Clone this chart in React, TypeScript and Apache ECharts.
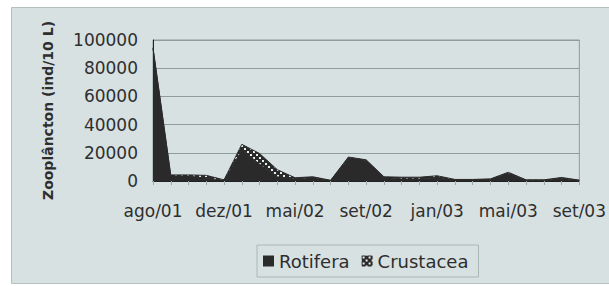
import React, { useEffect, useRef } from "react";
import * as echarts from "echarts";

const categories = [
  "ago/01", "set/01", "out/01", "nov/01", "dez/01", "fev/02", "mar/02", "abr/02", "mai/02",
  "jun/02", "jul/02", "ago/02", "set/02", "out/02", "nov/02", "dez/02", "jan/03", "fev/03",
  "mar/03", "abr/03", "mai/03", "jun/03", "jul/03", "ago/03", "set/03",
];
const rotifera = [
  94000, 3500, 3500, 2000, 500, 22000, 12000, 3000, 1500, 2500, 300, 16500, 14500,
  2500, 1500, 1500, 2500, 800, 800, 1200, 5500, 600, 600, 2000, 400,
];
const crustacea = [
  500, 800, 800, 2000, 300, 4000, 7500, 5000, 800, 500, 200, 500, 500,
  500, 1200, 1200, 1200, 300, 300, 300, 700, 200, 200, 500, 200,
];
const yTicks = { min: 0, max: 100000, interval: 20000 };

function makePattern() {
  const c = document.createElement("canvas");
  c.width = 6;
  c.height = 6;
  const ctx = c.getContext("2d")!;
  ctx.fillStyle = "#2a2a2a";
  ctx.fillRect(0, 0, 6, 6);
  ctx.fillStyle = "#e8eeee";
  ctx.fillRect(1, 1, 2, 2);
  ctx.fillRect(4, 4, 2, 2);
  return { image: c.toDataURL(), repeat: "repeat", imageWidth: 6, imageHeight: 6 } as any;
}

export default function App() {
  const ref = useRef<HTMLDivElement>(null);
  useEffect(() => {
    const chart = echarts.init(ref.current!, null, { renderer: "svg" });
    const pattern = makePattern();
    const font = "DejaVu Sans";
    const txt = "#2e2e2e";
    chart.setOption({
      animation: false,
      backgroundColor: "#ffffff",
      graphic: [
        {
          type: "rect",
          z: -10,
          shape: { x: 11.5, y: 7.5, width: 600, height: 276 },
          style: { fill: "#d7e1e2", stroke: "#b4c0c0", lineWidth: 1 },
        },
      ],
      grid: {
        left: 153,
        right: 25,
        top: 40,
        bottom: 105,
        show: true,
        borderColor: "#8e9c9c",
        borderWidth: 1,
        backgroundColor: "transparent",
      },
      legend: {
        left: 257,
        top: 245,
        orient: "horizontal",
        padding: [7, 10, 7, 6],
        borderColor: "#aab6b6",
        borderWidth: 1,
        itemWidth: 11,
        itemHeight: 11,
        itemGap: 12,
        icon: "rect",
        textStyle: { fontFamily: font, fontSize: 18, color: txt },
        data: [
          { name: "Rotifera", itemStyle: { color: "#2a2a2a" } },
          { name: "Crustacea", itemStyle: { color: pattern } },
        ],
      },
      xAxis: {
        type: "category",
        data: categories,
        boundaryGap: false,
        axisLine: { lineStyle: { color: "#222", width: 1 } },
        axisTick: { show: true, interval: 0, length: 4, lineStyle: { color: "#9aa8a8" } },
        axisLabel: {
          interval: 3,
          fontFamily: font,
          fontSize: 17,
          color: txt,
          margin: 21,
        },
        splitLine: { show: false },
      },
      yAxis: {
        type: "value",
        min: yTicks.min,
        max: yTicks.max,
        interval: yTicks.interval,
        name: "Zooplâncton (ind/10 L)",
        nameLocation: "middle",
        nameGap: 98,
        nameRotate: 90,
        nameTextStyle: { fontFamily: font, fontSize: 14, fontWeight: "bold", color: txt },
        axisLine: { show: true, lineStyle: { color: "#222", width: 1 } },
        axisTick: { show: false },
        axisLabel: {
          fontFamily: font,
          fontSize: 17,
          color: txt,
          margin: 15,
          formatter: (v: number) => String(v),
        },
        splitLine: { lineStyle: { color: "#8e9c9c", width: 1 } },
      },
      series: [
        {
          name: "Rotifera",
          type: "line",
          stack: "total",
          data: rotifera,
          symbol: "none",
          lineStyle: { color: "#2a2a2a", width: 1 },
          itemStyle: { color: "#2a2a2a" },
          areaStyle: { color: "#2a2a2a", opacity: 1 },
        },
        {
          name: "Crustacea",
          type: "line",
          stack: "total",
          data: crustacea,
          symbol: "none",
          lineStyle: { color: "#2a2a2a", width: 1 },
          itemStyle: { color: "#2a2a2a" },
          areaStyle: { color: pattern, opacity: 1 },
        },
      ],
    });
    return () => chart.dispose();
  }, []);
  return (
    <div
      ref={ref}
      style={{ position: "absolute", left: 0, top: 0, width: 609, height: 286 }}
    />
  );
}
